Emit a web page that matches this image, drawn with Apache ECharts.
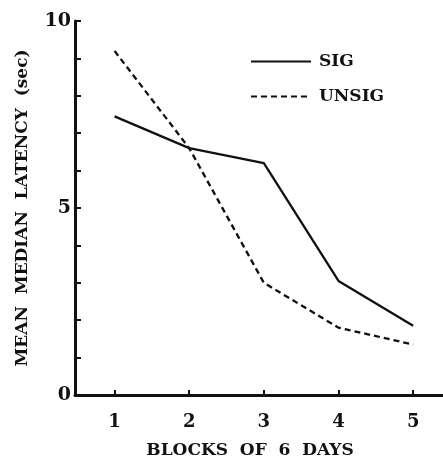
<!DOCTYPE html>
<html>
<head>
<meta charset="utf-8">
<script src="https://cdn.jsdelivr.net/npm/echarts@6/dist/echarts.min.js"></script>
<style>
  html, body { margin: 0; padding: 0; background: #fff; }
  #chart { width: 443px; height: 465px; }
</style>
</head>
<body>
<div id="chart"></div>
<script>
// blocks of 6 days
const blocks = [1, 2, 3, 4, 5];
const sig = [7.45, 6.6, 6.2, 3.05, 1.85];
const unsig = [9.2, 6.6, 3.0, 1.8, 1.35];
const yLabels = [0, 5, 10];

const FONT = '"DejaVu Serif", "Liberation Serif", serif';
const ink = '#111';

const chart = echarts.init(document.getElementById('chart'), null, { renderer: 'canvas' });

chart.setOption({
    backgroundColor: '#fff',
    animation: false,
    grid: { left: 75, right: 0, top: 21, bottom: 70 },
    legend: {
        orient: 'vertical',
        left: 245,
        top: 48,
        itemWidth: 60,
        itemHeight: 20,
        itemGap: 18,
        itemStyle: { opacity: 0 },
        textStyle: { fontFamily: FONT, fontWeight: 'bold', fontSize: 17, color: ink, padding: [0, 0, 0, 3] },
        data: ['SIG', 'UNSIG'],
    },
    xAxis: {
        type: 'value',
        min: 0.47,
        max: 5.4,
        name: 'BLOCKS  OF  6  DAYS',
        nameLocation: 'middle',
        nameGap: 47,
        nameTextStyle: { fontFamily: FONT, fontWeight: 'bold', fontSize: 17, color: ink, padding: [0, 18, 0, 0] },
        axisLine: { onZero: false, lineStyle: { color: ink, width: 3 } },
        axisTick: { inside: true, length: 5, customValues: blocks, lineStyle: { color: ink, width: 2 } },
        axisLabel: { customValues: blocks, margin: 18, fontFamily: FONT, fontWeight: 'bold', fontSize: 18, color: ink },
        splitLine: { show: false },
    },
    yAxis: {
        type: 'value',
        min: 0,
        max: 10,
        interval: 1,
        name: 'MEAN  MEDIAN  LATENCY  (sec)',
        nameLocation: 'middle',
        nameGap: 44,
        nameTextStyle: { fontFamily: FONT, fontWeight: 'bold', fontSize: 17, color: ink },
        axisLine: { show: true, lineStyle: { color: ink, width: 3 } },
        axisTick: { inside: true, length: 6, lineStyle: { color: ink, width: 2 } },
        axisLabel: {
            margin: 4,
            fontFamily: FONT, fontWeight: 'bold', fontSize: 19, color: ink,
            formatter: v => (yLabels.includes(v) ? String(v) : ''),
        },
        splitLine: { show: false },
    },
    series: [
        {
            name: 'SIG',
            type: 'line',
            data: blocks.map((b, i) => [b, sig[i]]),
            symbol: 'none',
            lineStyle: { color: ink, width: 2.3, type: 'solid' },
            itemStyle: { color: ink },
        },
        {
            name: 'UNSIG',
            type: 'line',
            data: blocks.map((b, i) => [b, unsig[i]]),
            symbol: 'none',
            lineStyle: { color: ink, width: 2.3, type: [6, 4] },
            itemStyle: { color: ink },
        },
    ],
});

window.addEventListener('resize', () => chart.resize());
</script>
</body>
</html>
